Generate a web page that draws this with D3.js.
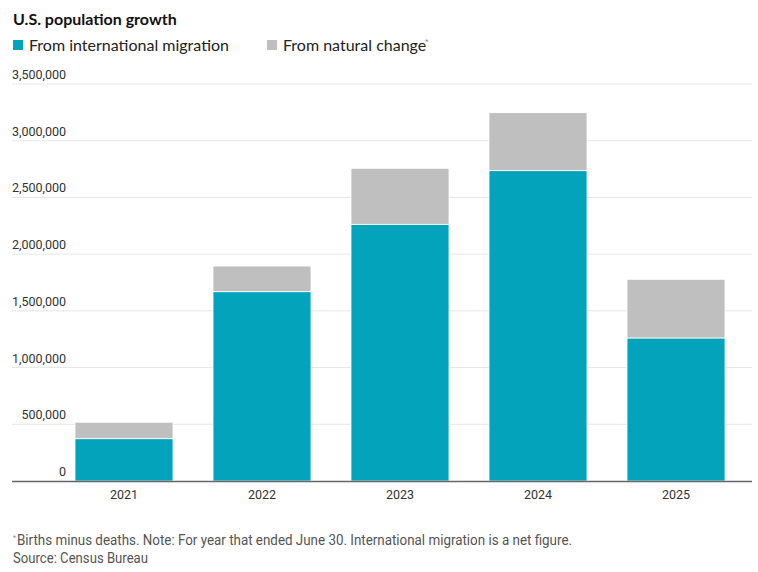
<!DOCTYPE html>
<html>
<head>
<meta charset="utf-8">
<script src="https://cdn.jsdelivr.net/npm/d3@7"></script>
<style>
  body { margin: 0; background: #fff; }
  text { font-family: "Liberation Sans Narrow", "Roboto", sans-serif; }
</style>
</head>
<body>
<script>
// data
var years = ["2021", "2022", "2023", "2024", "2025"];
var migration = [373000, 1669000, 2263000, 2736000, 1261000];
var natural = [145000, 226000, 494000, 511000, 517000];
var yTicks = [0, 500000, 1000000, 1500000, 2000000, 2500000, 3000000, 3500000];

var W = 758, H = 572;
var gLeft = 12, gRight = 752, gTop = 84, gBottom = 481;

var svg = d3.select("body").append("svg")
  .attr("width", W).attr("height", H);

var x = d3.scaleBand().domain(years).range([40.5, 759.5]).paddingInner(0.29).paddingOuter(0.25);
var y = d3.scaleLinear().domain([0, 3500000]).range([gBottom, gTop]);

// title + legend
svg.append("text").attr("x", 13).attr("y", 25)
  .style("font-family", "Lato, 'Noto Sans', sans-serif")
  .style("font-weight", "bold").style("font-size", "16px").attr("fill", "#111")
  .text("U.S. population growth");

var legend = [
  { label: "From international migration", color: "#03a3bb", x: 13 },
  { label: "From natural change", color: "#bfbfbf", x: 267 }
];
legend.forEach(function(d) {
  svg.append("rect").attr("x", d.x).attr("y", 40).attr("width", 10).attr("height", 10).attr("fill", d.color);
  svg.append("text").attr("x", d.x + 16).attr("y", 51)
    .style("font-family", "Lato, 'Noto Sans', sans-serif")
    .style("font-size", "16px").attr("fill", "#222").text(d.label);
});
svg.append("text").attr("x", 425).attr("y", 44).style("font-size", "8px").attr("fill", "#888").text("*");

// grid + y labels
svg.selectAll("line.grid").data(yTicks.slice(1)).join("line")
  .attr("class", "grid")
  .attr("x1", gLeft).attr("x2", gRight)
  .attr("y1", d => y(d)).attr("y2", d => y(d))
  .attr("stroke", "#e6e6e6").attr("stroke-width", 1);

svg.selectAll("text.ylab").data(yTicks).join("text")
  .attr("class", "ylab")
  .attr("x", 66).attr("y", d => y(d) - 5)
  .attr("text-anchor", "end").style("font-size", "12.5px").attr("fill", "#333")
  .text(d => d3.format(",")(d));

// stacked bars
var rows = years.map((yr, i) => ({ year: yr, migration: migration[i], natural: natural[i] }));
var stack = d3.stack().keys(["migration", "natural"])(rows);
var colors = { migration: "#03a3bb", natural: "#bfbfbf" };

svg.selectAll("g.layer").data(stack).join("g")
  .attr("class", "layer")
  .attr("fill", d => colors[d.key])
  .selectAll("rect").data(d => d).join("rect")
  .attr("x", d => x(d.data.year))
  .attr("width", x.bandwidth())
  .attr("y", d => y(d[1]))
  .attr("height", d => y(d[0]) - y(d[1]))
  .attr("stroke", "#fff").attr("stroke-width", 0.8);

// baseline
svg.append("line").attr("x1", gLeft).attr("x2", gRight)
  .attr("y1", gBottom + 0.5).attr("y2", gBottom + 0.5)
  .attr("stroke", "#666").attr("stroke-width", 1.5);

// x labels
svg.selectAll("text.xlab").data(years).join("text")
  .attr("class", "xlab")
  .attr("x", d => x(d) + x.bandwidth() / 2).attr("y", 499)
  .attr("text-anchor", "middle").style("font-size", "12.5px").attr("fill", "#333")
  .text(d => d);

// footnote
svg.append("text").attr("x", 13).attr("y", 540)
  .style("font-size", "7px").attr("fill", "#888").text("*");
svg.append("text").attr("x", 17).attr("y", 545)
  .attr("textLength", 555).attr("lengthAdjust", "spacingAndGlyphs")
  .style("font-size", "14.5px").attr("fill", "#555")
  .text("Births minus deaths. Note: For year that ended June 30. International migration is a net figure.");
svg.append("text").attr("x", 13).attr("y", 563)
  .attr("textLength", 135).attr("lengthAdjust", "spacingAndGlyphs")
  .style("font-size", "14.5px").attr("fill", "#555").text("Source: Census Bureau");
</script>
</body>
</html>
